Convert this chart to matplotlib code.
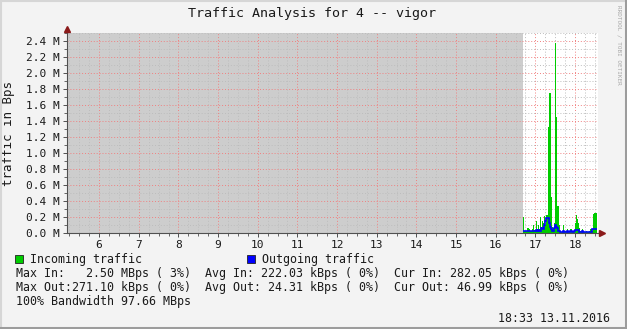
import numpy as np
import matplotlib
matplotlib.use('Agg')
import matplotlib.pyplot as plt
from matplotlib.lines import Line2D
from matplotlib.patches import Rectangle
from matplotlib.ticker import FuncFormatter, MultipleLocator

# samples every 1.5 minutes starting at 16:42, values in kBps
sample_start_hour = 16.70
sample_step_min = 1.5
incoming_kbps = [
    200, 25, 25, 20, 60, 60, 55, 30, 30, 50,
    100, 40, 40, 150, 50, 100, 50, 200, 80, 150,
    120, 210, 100, 220, 220, 1330, 1750, 1750, 450, 80,
    60, 120, 2380, 1450, 340, 340, 100, 30, 10, 10,
    100, 20, 20, 20, 50, 30, 20, 50, 50, 20,
    30, 40, 130, 220, 170, 130, 60, 30, 20, 50,
    20, 15, 15, 20, 15, 15, 20, 50, 50, 30,
    240, 250, 250, 250,
]
outgoing_kbps = [
    20, 20, 20, 20, 30, 30, 30, 20, 20, 20,
    25, 20, 20, 40, 20, 40, 20, 30, 60, 60,
    50, 100, 150, 190, 190, 190, 120, 70, 50, 20,
    20, 60, 100, 80, 60, 30, 20, 15, 15, 15,
    20, 15, 15, 15, 20, 15, 15, 20, 20, 15,
    15, 20, 40, 40, 40, 40, 15, 15, 15, 20,
    15, 15, 15, 15, 15, 15, 15, 15, 15, 45,
    45, 45, 45, 45,
]
hour_ticks = list(range(6, 19))

title = 'Traffic Analysis for 4 -- vigor'
legend_rows = [
    'Max In:   2.50 MBps ( 3%)  Avg In: 222.03 kBps ( 0%)  Cur In: 282.05 kBps ( 0%)',
    'Max Out:271.10 kBps ( 0%)  Avg Out: 24.31 kBps ( 0%)  Cur Out: 46.99 kBps ( 0%)',
    '100% Bandwidth 97.66 MBps',
]
timestamp = '18:33 13.11.2016'

W, H = 627, 329
MONO = 'DejaVu Sans Mono'
BG = '#f3f3f3'
INK = '#1a1a1a'


def px(x, y):
    # pixel coords from top-left -> figure fraction
    return x / W, 1 - y / H


def draw_traffic_graph(x_range=(5.19, 18.58), y_max=2.5e6,
                       font_size=8.4, tick_size=8):
    fig = plt.figure(figsize=(W / 100, H / 100), dpi=100)
    fig.patch.set_facecolor(BG)

    left, bottom = px(67, 233)
    right, top = px(598, 33)
    ax = fig.add_axes([left, bottom, right - left, top - bottom])
    ax.set_facecolor('white')

    n = len(incoming_kbps)
    edges = sample_start_hour + np.arange(n + 1) * sample_step_min / 60
    inc = np.array(incoming_kbps) * 1e3
    out = np.array(outgoing_kbps) * 1e3

    # unknown data region
    ax.axvspan(x_range[0], edges[0], color='#cdcdcd', lw=0, zorder=0.1)

    ax.stairs(inc, edges, fill=True, color='#00cc00', lw=0, zorder=2)
    ax.stairs(out, edges, baseline=None, color='#0000ff', lw=1.2, zorder=3)

    ax.set_xlim(*x_range)
    ax.set_ylim(0, y_max)
    ax.xaxis.set_minor_locator(MultipleLocator(0.25))
    ax.set_xticks(hour_ticks)
    ax.set_xticklabels([str(h) for h in hour_ticks])
    ax.yaxis.set_major_locator(MultipleLocator(0.2e6))
    ax.yaxis.set_minor_locator(MultipleLocator(0.1e6))
    ax.yaxis.set_major_formatter(FuncFormatter(lambda v, p: f'{v / 1e6:.1f} M'))

    ax.grid(which='minor', color='#bdbdbd', ls=(0, (1, 2)), lw=0.7, zorder=0.5)
    ax.grid(which='major', color='#f08080', ls=(0, (1, 2)), lw=0.7, zorder=0.6)
    ax.set_axisbelow(True)

    for s in ['top', 'right']:
        ax.spines[s].set_visible(False)
    for s in ['left', 'bottom']:
        ax.spines[s].set_color('#505050')
        ax.spines[s].set_linewidth(0.8)
        ax.spines[s].set_zorder(4)

    ax.tick_params(which='major', length=3, width=0.7, color='#505050',
                   labelsize=tick_size, labelcolor=INK, pad=2)
    ax.tick_params(which='minor', length=2, width=0.6, color='#505050')
    for lbl in ax.get_xticklabels() + ax.get_yticklabels():
        lbl.set_fontfamily(MONO)

    # axis arrows
    ax.plot(0, 1.02, '^', transform=ax.transAxes, clip_on=False,
            ms=4.5, color='#8b1a1a', zorder=5)
    ax.plot(1.008, 0, '>', transform=ax.transAxes, clip_on=False,
            ms=4.5, color='#8b1a1a', zorder=5)
    ax.plot([1.0, 1.008], [0, 0], transform=ax.transAxes, clip_on=False,
            color='#505050', lw=0.8)

    ax.set_ylabel('traffic in Bps', fontfamily=MONO, fontsize=9, labelpad=8,
                  color=INK)

    fig.text(*px(312, 13), title, ha='center', va='center',
             fontfamily=MONO, fontsize=9.6, color=INK)
    fig.text(*px(619, 5), 'RRDTOOL / TOBI OETIKER', rotation=270,
             ha='center', va='top', fontfamily=MONO, fontsize=4.3,
             color='#a8a8a8')

    # legend
    for x0, col, label in [(15, '#00cc00', 'Incoming traffic'),
                           (247, '#0000ff', 'Outgoing traffic')]:
        fx, fy = px(x0, 263)
        fig.add_artist(Rectangle((fx, fy), 8 / W, 8 / H, transform=fig.transFigure,
                                 facecolor=col, edgecolor='#222222', lw=0.6))
        fig.text(*px(x0 + 15, 259), label, va='center', fontfamily=MONO,
                 fontsize=font_size, color=INK)

    for i, row in enumerate(legend_rows):
        fig.text(*px(16, 274 + 14 * i), row, va='center', fontfamily=MONO,
                 fontsize=font_size, color=INK)
    fig.text(*px(610, 319), timestamp, ha='right', va='center',
             fontfamily=MONO, fontsize=font_size, color=INK)

    # 3d frame
    fig.add_artist(Line2D([0, 1], [1 - 1 / H] * 2, color='#d6d6d6', lw=1.5))
    fig.add_artist(Line2D([1 / W] * 2, [0, 1], color='#d6d6d6', lw=1.5))
    fig.add_artist(Line2D([0, 1], [1.5 / H] * 2, color='#9c9c9c', lw=2.2))
    fig.add_artist(Line2D([1 - 1.5 / W] * 2, [0, 1], color='#9c9c9c', lw=2.2))

    fig.savefig('out.png', dpi=100, facecolor=fig.get_facecolor())


draw_traffic_graph()
